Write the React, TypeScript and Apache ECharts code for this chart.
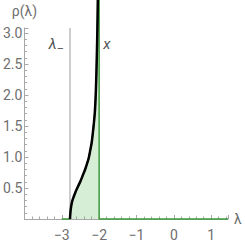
import React, { useEffect, useRef } from "react";
import * as echarts from "echarts";

const lambdaMinus = -2.78;
const cutX = -2;
const xMin = -4;
const xMax = 1.45;
const yMax = 3.08;
const supportStart = -3;

const curveX = [-2.78, -2.77, -2.75, -2.72, -2.68, -2.63, -2.57, -2.5, -2.44, -2.38, -2.33, -2.28, -2.24, -2.2, -2.17, -2.14, -2.115, -2.095, -2.08, -2.065, -2.052, -2.042, -2.034];
const curveY = [0, 0.1, 0.2, 0.29, 0.36, 0.44, 0.52, 0.61, 0.7, 0.79, 0.88, 0.98, 1.1, 1.23, 1.38, 1.55, 1.72, 1.95, 2.2, 2.55, 2.9, 3.25, 3.6];
const xTicks = [-3, -2, -1, 0, 1];
const yTicks = [0.5, 1.0, 1.5, 2.0, 2.5, 3.0];

const GREEN = "#3c9a3c";
const FILL = "rgba(60,175,60,0.3)";
const AXIS = "#a8a8a8";
const LABEL = "#6e6e6e";
const FONT = "Roboto, 'Liberation Sans', sans-serif";

export default function App() {
  const ref = useRef<HTMLDivElement>(null);
  useEffect(() => {
    if (!ref.current) return;
    const chart = echarts.init(ref.current, undefined, { renderer: "svg" });
    const curve = curveX.map((x, i) => [x, curveY[i]]);
    const topY = curveY[curveY.length - 1];
    const green = [
      [supportStart, 0],
      [lambdaMinus, 0],
      ...curve,
      [cutX, topY],
      [cutX, 0],
      [xMax, 0],
    ];
    chart.setOption({
      animation: false,
      grid: { left: 20, right: 17, top: 28, bottom: 26 },
      xAxis: {
        type: "value",
        min: xMin,
        max: xMax,
        interval: 1,
        name: "λ",
        nameLocation: "end",
        nameGap: 6,
        nameTextStyle: { color: LABEL, fontSize: 14, fontFamily: FONT },
        axisLine: { show: true, onZero: false, lineStyle: { color: AXIS, width: 1 } },
        axisTick: { show: true, inside: true, length: 4, lineStyle: { color: AXIS } },
        minorTick: { show: true, splitNumber: 5, length: 2.5, lineStyle: { color: AXIS } },
        splitLine: { show: false },
        axisLabel: {
          color: LABEL,
          fontSize: 14,
          fontFamily: FONT,
          margin: 9,
          showMaxLabel: false,
          formatter: (v: number) => {
            const r = Math.round(v);
            if (!xTicks.includes(r) || Math.abs(v - r) > 1e-6) return "";
            return r < 0 ? "\u2212" + Math.abs(r) : String(r);
          },
        },
      },
      yAxis: {
        type: "value",
        min: 0,
        max: yMax,
        interval: 0.5,
        name: "ρ(λ)",
        nameLocation: "end",
        nameGap: 10,
        nameTextStyle: { color: LABEL, fontSize: 14, fontFamily: FONT, align: "center" },
        axisLine: { show: true, onZero: false, lineStyle: { color: AXIS, width: 1 } },
        axisTick: { show: true, inside: true, length: 4, lineStyle: { color: AXIS } },
        minorTick: { show: true, splitNumber: 5, length: 2.5, lineStyle: { color: AXIS } },
        splitLine: { show: false },
        axisLabel: {
          color: LABEL,
          fontSize: 14,
          fontFamily: FONT,
          margin: 2,
          showMaxLabel: false,
          formatter: (v: number) => {
            const hit = yTicks.find((t) => Math.abs(t - v) < 1e-6);
            return hit === undefined ? "" : hit.toFixed(1);
          },
        },
      },
      series: [
        {
          type: "line",
          data: green,
          clip: false,
          symbol: "none",
          lineStyle: { color: GREEN, width: 1.5 },
          areaStyle: { color: FILL, origin: "start" },
          z: 2,
        },
        {
          type: "line",
          data: [
            [lambdaMinus, 0],
            [lambdaMinus, yMax],
          ],
          symbol: "none",
          lineStyle: { color: "#9a9a9a", width: 1 },
          z: 3,
        },
        {
          type: "line",
          data: curve,
          clip: false,
          symbol: "none",
          smooth: 0.3,
          lineStyle: { color: "#000", width: 2.5 },
          z: 4,
        },
        {
          type: "scatter",
          symbolSize: 0,
          clip: false,
          data: [
            {
              value: [lambdaMinus, 2.83],
              label: {
                show: true,
                position: "left",
                distance: 6,
                formatter: "{a|λ}{b|\u2013}",
                rich: {
                  a: { fontSize: 15, fontStyle: "italic", color: "#222", fontFamily: FONT },
                  b: { fontSize: 11, color: "#222", fontFamily: FONT, padding: [9, 0, 0, 0] },
                },
              },
            },
            {
              value: [cutX, 2.83],
              label: {
                show: true,
                position: "right",
                distance: 4,
                formatter: "x",
                fontSize: 15,
                fontStyle: "italic",
                color: "#222",
                fontFamily: FONT,
              },
            },
          ],
          z: 5,
        },
      ],
    });
    return () => chart.dispose();
  }, []);
  return <div ref={ref} style={{ width: 245, height: 245, position: "absolute", left: 0, top: 0 }} />;
}
